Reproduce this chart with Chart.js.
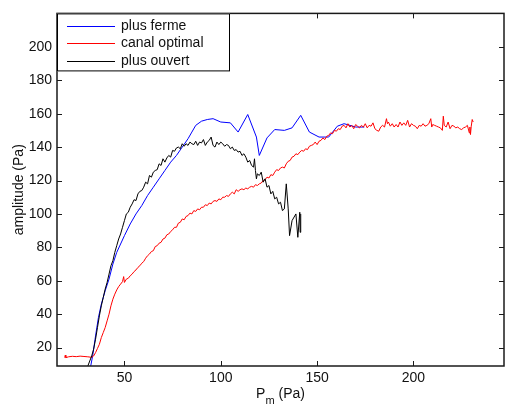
<!DOCTYPE html>
<html>
<head>
<meta charset="utf-8">
<script src="https://cdn.jsdelivr.net/npm/chart.js@4/dist/chart.umd.min.js"></script>
<style>
  html, body { margin: 0; padding: 0; background: #fff; }
  #wrap { width: 505px; height: 408px; }
</style>
</head>
<body>
<div id="wrap"><canvas id="c" width="505" height="408"></canvas></div>
<script>
// series labels
const seriesNames = ['plus ferme', 'canal optimal', 'plus ouvert'];

// plus ferme (blue)
const fermePm = [32.5, 33.5, 35, 36.5, 38, 40, 42, 44, 46, 48, 50, 53, 56, 59, 62, 65, 68, 71, 74, 77, 80, 83, 85, 87, 90, 93, 96, 100, 105, 109, 114, 118.5, 120, 124, 128, 133, 137, 141.5, 146, 151, 156, 160.5, 164, 170, 174.5];
const fermeAmp = [9, 15, 27, 38, 46, 54, 61, 70, 77, 82, 87, 94, 100, 105, 111, 116, 121, 126, 131, 135, 140, 145, 149, 153, 155.5, 156.5, 157, 155, 154.5, 149, 159.5, 146, 135, 145.5, 150.5, 150, 151.5, 159, 149, 146, 146, 152.5, 154, 152, 152];

// canal optimal (red)
const canalPm = [19, 19.3, 19.6, 21, 23, 25, 27, 29, 31, 33, 34, 35, 36, 37, 38, 39, 40, 41, 42, 43, 44, 45, 46, 47, 48, 49, 49.6, 50, 51, 52, 53, 54, 55, 56, 57, 58, 59, 60, 61, 62, 63, 64, 65, 66, 67, 68, 69, 70, 71, 72, 73, 74, 75, 76, 77, 78, 79, 80, 81, 82, 83, 84, 85, 86, 87, 88, 89, 90, 91, 92, 93, 94, 95, 96, 97, 98, 99, 100, 101, 102, 103, 104, 105, 106, 107, 108, 109, 110, 111, 112, 113, 114, 115, 116, 117, 118, 119, 120, 121, 122, 123, 124, 125, 126, 127, 128, 129, 130, 131, 132, 133, 134, 135, 136, 137, 138, 139, 140, 141, 142, 143, 144, 145, 146, 147, 148, 149, 150, 151, 152, 153, 154, 155, 156, 157, 158, 159, 160, 161, 162, 163, 164, 165, 166, 167, 168, 169, 170, 171, 172, 173, 174, 175, 176, 177, 178, 179, 180, 181, 182, 183, 184, 185, 186, 186.5, 187, 188, 189, 190, 191, 192, 193, 194, 195, 196, 197, 198, 199, 200, 201, 202, 203, 204, 205, 206, 207, 208, 209, 209.5, 210, 211, 212, 213, 214, 215, 215.5, 216, 217, 218, 219, 220, 221, 222, 223, 224, 225, 226, 227, 228, 229, 229.3, 229.6, 230, 230.5, 231];
const canalAmp = [14, 15.5, 14, 14.5, 14.8, 14.6, 14.9, 14.7, 14.5, 14.2, 15, 17, 19.5, 22, 26, 29, 32, 36, 40, 45, 49, 52, 54.5, 56.5, 58, 59.5, 62.5, 59, 61, 61.5, 63, 64, 65.5, 66.5, 68, 69, 70.5, 71.5, 73.5, 75, 76, 77.5, 78, 80.5, 81, 82.5, 83, 85, 85.5, 87.5, 88, 89.5, 90.5, 92, 92, 94.5, 95, 97, 96.5, 98.5, 99, 100.5, 100, 102, 101.5, 103, 102.5, 104, 104, 105.5, 105, 106.5, 106, 107.5, 108, 107.5, 109, 108.5, 110, 110, 111, 110.5, 112, 113, 112, 114.5, 113.5, 114.5, 115, 114.5, 115.5, 115, 116, 116.5, 116, 117.5, 117, 118, 118.5, 120, 120.5, 122, 121.5, 123.5, 123, 125, 126.5, 126, 127.5, 128, 127.5, 130, 131.5, 132, 134, 134.5, 136, 135.5, 137, 138, 137.5, 139, 138.5, 140.5, 141, 141.5, 143, 141.5, 143.5, 144, 145.5, 144.5, 146.5, 147, 148.5, 148, 150, 149.5, 151, 150.5, 152.5, 153, 151.5, 154, 152, 153, 151, 153.5, 152.5, 151.5, 153, 152, 154, 151.5, 153, 152.5, 154.5, 151, 150, 149.5, 152, 153, 152, 157, 154, 155, 152.5, 154, 152, 153.5, 152, 155, 153, 154.5, 153, 156, 152, 154, 153, 152.5, 151, 153, 152.5, 154, 152.5, 153, 154, 157, 152, 153.5, 153, 152.5, 152, 151.5, 150, 158.5, 153, 152, 155, 151, 153, 152.5, 151.5, 152, 151, 150.5, 151.5, 152, 153, 148.5, 152, 147.5, 152.5, 156.5, 155];

// plus ouvert (black)
const ouvertPm = [31, 32, 33, 34, 35, 36, 37, 38, 39, 40, 41, 42, 43, 44, 45, 46, 47, 48, 49, 50, 51, 52, 53, 54, 55, 56, 57, 58, 59, 60, 61, 62, 63, 64, 65, 66, 67, 68, 69, 70, 71, 72, 73, 74, 75, 76, 77, 78, 79, 80, 81, 82, 83, 84, 85, 86, 87, 88, 89, 90, 91, 92, 93, 94, 95, 96, 97, 98, 99, 100, 101, 102, 103, 104, 105, 106, 107, 108, 109, 110, 111, 112, 113, 114, 115, 116, 117, 117.5, 118, 118.5, 119, 120, 121, 122, 123, 124, 125, 126, 127, 128, 129, 130, 131, 132, 133, 134, 135, 135.7, 137, 139, 140, 141, 141.2, 141.5];
const ouvertAmp = [9, 12, 15, 19, 25, 32, 39, 45, 50, 55, 59, 64, 69, 72, 77, 81, 85, 88, 92, 96, 100, 101, 104, 106, 108.5, 108, 112, 113.5, 114, 116, 119, 118, 123, 122, 125, 126, 126.5, 130, 129, 133, 131, 133.5, 135, 134, 138, 137.5, 139.5, 140, 139, 142, 140.5, 142, 141, 143, 142, 141.5, 143.5, 141, 143, 142.5, 144.5, 141, 143, 144, 146, 141, 140, 143, 141.5, 143, 142, 140.5, 141.5, 141, 139, 140, 138, 138.5, 137, 137.5, 135, 136, 134, 131, 132, 129, 128, 133, 126, 121, 124, 123, 125, 119, 121, 116, 117, 112, 113.5, 109, 110, 106, 107, 102, 103, 118, 103, 87, 96, 100, 86, 101, 89, 100];

// axis ticks
const xTicks = [50, 100, 150, 200];
const yTicks = [20, 40, 60, 80, 100, 120, 140, 160, 180, 200];

const colors = ['#0000ff', '#ff0000', '#000000'];
const FONT = '"Liberation Sans", Arial, Helvetica, sans-serif';

function toPoints(xs, ys) {
  return xs.map((x, i) => ({ x: x, y: ys[i] }));
}

// MATLAB-like frame: box, inward ticks, legend, axis titles
const matlabFrame = {
  id: 'matlabFrame',
  afterDraw(chart) {
    const ctx = chart.ctx;
    const a = chart.chartArea;
    const sx = chart.scales.x, sy = chart.scales.y;
    ctx.save();
    ctx.strokeStyle = '#1a1a1a';
    ctx.lineWidth = 1;
    const tl = 5;
    ctx.beginPath();
    xTicks.forEach(v => {
      const px = Math.round(sx.getPixelForValue(v)) + 0.5;
      ctx.moveTo(px, a.bottom); ctx.lineTo(px, a.bottom - tl);
      ctx.moveTo(px, a.top); ctx.lineTo(px, a.top + tl);
    });
    yTicks.forEach(v => {
      const py = Math.round(sy.getPixelForValue(v)) + 0.5;
      ctx.moveTo(a.left, py); ctx.lineTo(a.left + tl, py);
      ctx.moveTo(a.right, py); ctx.lineTo(a.right - tl, py);
    });
    ctx.stroke();

    // box
    ctx.lineWidth = 1.5;
    ctx.strokeRect(a.left, a.top, a.right - a.left, a.bottom - a.top);

    // legend
    const lx = a.left, ly = a.top, lw = 173, lh = 58;
    ctx.fillStyle = '#fff';
    ctx.fillRect(lx, ly, lw, lh);
    ctx.lineWidth = 1;
    ctx.strokeStyle = '#000';
    ctx.strokeRect(lx + 0.5, ly + 0.5, lw - 1, lh - 1);
    ctx.font = '14px ' + FONT;
    ctx.textBaseline = 'middle';
    ctx.textAlign = 'left';
    chart.data.datasets.forEach((ds, i) => {
      const ry = ly + 12.5 + i * 17.5;
      ctx.strokeStyle = ds.borderColor;
      ctx.beginPath();
      ctx.moveTo(lx + 10, Math.round(ry) + 0.5);
      ctx.lineTo(lx + 58, Math.round(ry) + 0.5);
      ctx.stroke();
      ctx.fillStyle = '#111';
      ctx.fillText(ds.label, lx + 64, ry);
    });

    // x title with subscript
    ctx.fillStyle = '#111';
    ctx.textBaseline = 'alphabetic';
    const cx = (a.left + a.right) / 2;
    ctx.font = '14px ' + FONT;
    const wP = ctx.measureText('P').width;
    const wRest = ctx.measureText(' (Pa)').width;
    ctx.font = '11px ' + FONT;
    const wm = ctx.measureText('m').width;
    let x0 = cx - (wP + wm + wRest) / 2;
    const base = 398;
    ctx.font = '14px ' + FONT;
    ctx.fillText('P', x0, base);
    ctx.font = '11px ' + FONT;
    ctx.fillText('m', x0 + wP, base + 6);
    ctx.font = '14px ' + FONT;
    ctx.fillText(' (Pa)', x0 + wP + wm, base);

    // y title
    ctx.translate(19, (a.top + a.bottom) / 2);
    ctx.rotate(-Math.PI / 2);
    ctx.textAlign = 'center';
    ctx.textBaseline = 'middle';
    ctx.fillText('amplitude (Pa)', 0, 0);
    ctx.restore();
  }
};

new Chart(document.getElementById('c'), {
  type: 'scatter',
  data: {
    datasets: [
      { label: seriesNames[0], data: toPoints(fermePm, fermeAmp), borderColor: colors[0], order: 2 },
      { label: seriesNames[1], data: toPoints(canalPm, canalAmp), borderColor: colors[1], order: 1 },
      { label: seriesNames[2], data: toPoints(ouvertPm, ouvertAmp), borderColor: colors[2], order: 0 }
    ]
  },
  options: {
    responsive: false,
    animation: false,
    showLine: true,
    elements: {
      point: { radius: 0, hoverRadius: 0 },
      line: { borderWidth: 1, tension: 0, fill: false }
    },
    layout: { padding: { top: 10, right: 1, left: 0, bottom: 0 } },
    plugins: {
      legend: { display: false },
      tooltip: { enabled: false }
    },
    scales: {
      x: {
        type: 'linear',
        min: 15,
        max: 247,
        grid: { display: false, drawTicks: false },
        border: { display: false },
        afterBuildTicks: s => { s.ticks = xTicks.map(v => ({ value: v })); },
        afterFit: s => { s.height = 42; },
        ticks: {
          padding: 4,
          color: '#111',
          maxRotation: 0,
          font: { size: 14, family: FONT }
        }
      },
      y: {
        type: 'linear',
        min: 9,
        max: 220,
        grid: { display: false, drawTicks: false },
        border: { display: false },
        afterBuildTicks: s => { s.ticks = yTicks.map(v => ({ value: v })); },
        afterFit: s => { s.width = 57; },
        ticks: {
          padding: 5,
          color: '#111',
          font: { size: 14, family: FONT }
        }
      }
    }
  },
  plugins: [matlabFrame]
});
</script>
</body>
</html>
